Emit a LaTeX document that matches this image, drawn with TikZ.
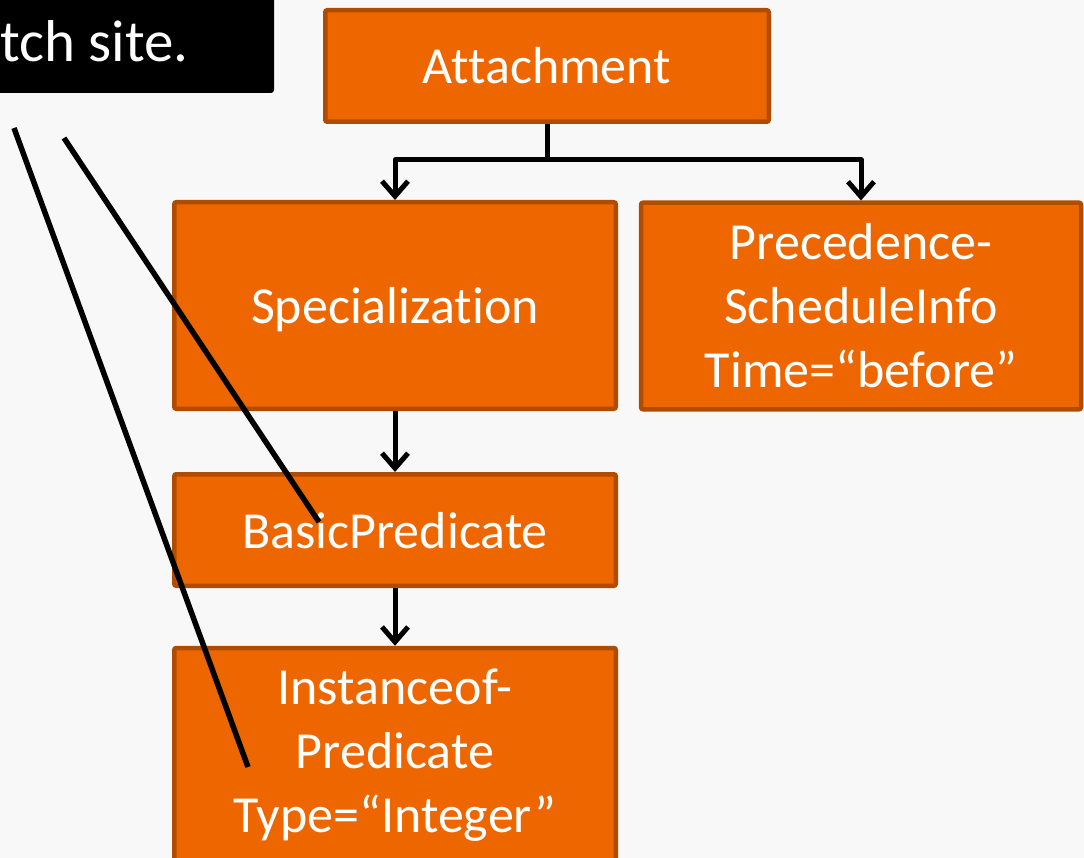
\documentclass[tikz,border=0pt]{standalone}
\usepackage{fontspec}
\setmainfont{Carlito}[Ligatures=NoCommon]
\usetikzlibrary{arrows.meta}
\definecolor{boxfill}{RGB}{237,102,0}
\definecolor{boxline}{RGB}{176,76,0}
\definecolor{paper}{RGB}{248,248,248}
\tikzset{
  box/.style={draw=boxline, fill=boxfill, line width=4.5pt, rounded corners=2pt,
    text=white, align=center, inner sep=0pt,
    font=\fontsize{52}{64}\selectfont},
  oneline/.style={text height=40pt, text depth=4pt},
  conn/.style={line width=5pt, line join=round,
    -{Straight Barb[length=15pt,width=26pt,line width=5pt]}},
  pointer/.style={line width=5.5pt}
}
\begin{document}
\begin{tikzpicture}[x=1pt,y=-1pt]
  \useasboundingbox[fill=paper] (0,0) rectangle (1084,858);

  % callout label in the top left corner
  \fill[black, rounded corners=3pt] (-20,-20) rectangle (274,93);
  \node[anchor=base west, text=white, inner sep=0pt,
        font=\fontsize{59}{70}\selectfont] (note) at (0,62) {tch site.};

  % hierarchy of boxes
  \node[box, oneline, minimum width=443.5pt, minimum height=111.5pt] (att)  at (547,66)    {Attachment};
  \node[box, oneline, minimum width=441.5pt, minimum height=206.5pt] (spec) at (395,305.5) {Specialization};
  \node[box, minimum width=440pt,   minimum height=206.5pt] (prec) at (861,306) {Precedence-\\ScheduleInfo\\Time=“before”};
  \node[box, oneline, minimum width=441.5pt, minimum height=111.5pt] (basic) at (395,530)  {BasicPredicate};
  \node[box, minimum width=441.5pt, minimum height=214pt] (inst) at (395,755) {Instanceof-\\Predicate\\Type=“Integer”};

  % tree connectors
  \coordinate (split) at (547,160);
  \draw[line width=5pt] (att.south) -- (split);
  \draw[conn] (split) -| (spec.north);
  \draw[conn] (split) -| (prec.north);
  \draw[conn] (spec.south) -- (basic.north);
  \draw[conn] (basic.south) -- (inst.north);

  % pointer lines from the callout
  \coordinate (p1s) at (14,128);
  \coordinate (p1e) at (248,767);
  \coordinate (p2s) at (64,138);
  \coordinate (p2e) at (319,522);
  \draw[pointer] (p1s) -- (p1e);
  \draw[pointer] (p2s) -- (p2e);
\end{tikzpicture}
\end{document}
